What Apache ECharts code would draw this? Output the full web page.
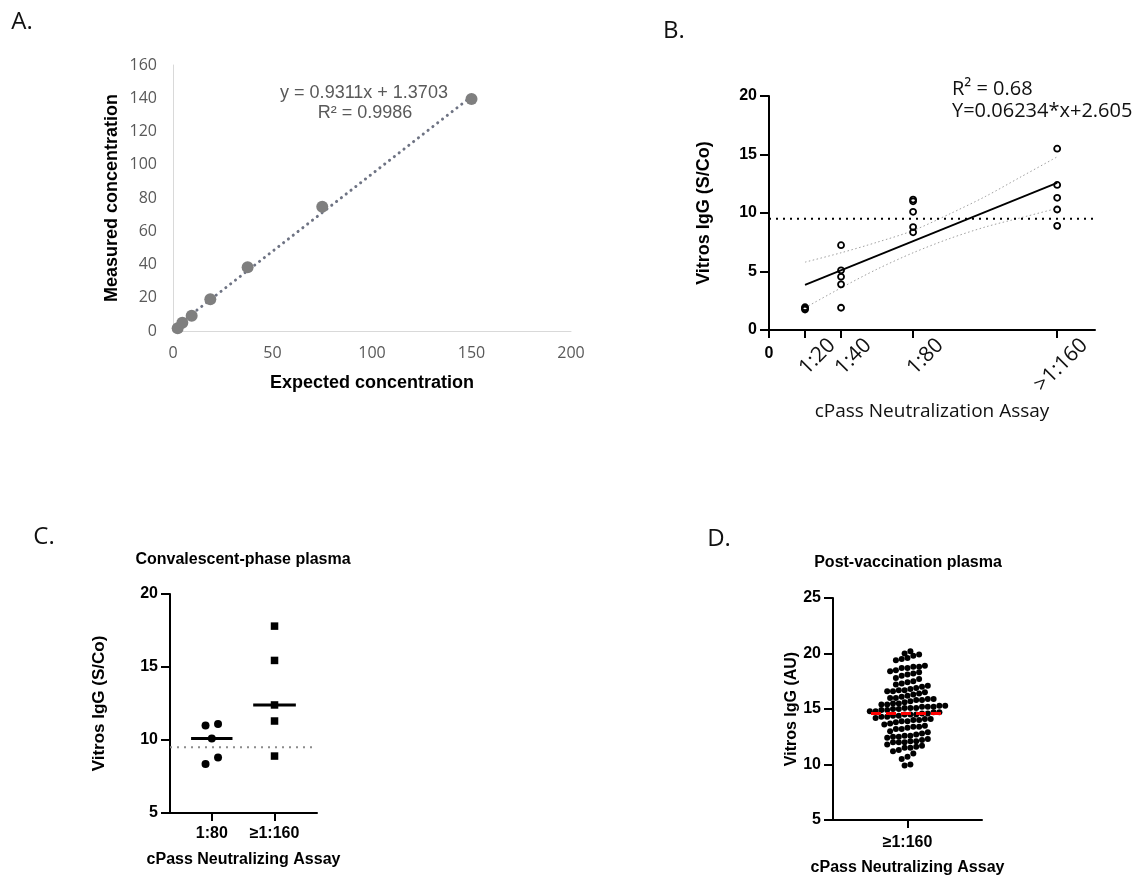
<!DOCTYPE html>
<html>
<head>
<meta charset="utf-8">
<title>Vitros IgG vs cPass neutralization</title>
<script src="https://cdn.jsdelivr.net/npm/echarts@6/dist/echarts.min.js"></script>
<style>
html, body { margin: 0; padding: 0; background: #fff; }
#chart { width: 1139px; height: 877px; }
</style>
</head>
<body>
<div id="chart"></div>
<script>
// A. linearity
let expectedConc = [2.34, 4.69, 9.38, 18.75, 37.5, 75, 150]
let measuredConc = [1.6, 5.0, 9.2, 19.1, 38.3, 74.8, 139.5]
let slopeA = 0.9311
let interceptA = 1.3703

// B. Vitros vs cPass titre
let titerTicks = [20, 40, 80, 160]
let titerLabels = ['1:20', '1:40', '1:80', '>1:160']
let vitros20 = [1.75, 1.85, 1.95]
let vitros40 = [7.25, 5.1, 4.55, 3.9, 1.9]
let vitros80 = [11.15, 11.0, 10.1, 8.8, 8.35]
let vitros160 = [15.5, 12.4, 11.3, 10.3, 8.9]
let bandX = [20, 40, 60, 80, 100, 120, 140, 160]
let bandUpper = [5.8, 6.6, 7.5, 8.5, 9.9, 11.4, 13.1, 14.8]
let bandLower = [1.9, 3.6, 5.2, 6.6, 7.8, 8.8, 9.6, 10.4]
let slopeB = 0.06234
let interceptB = 2.605
let cutoff = 9.5

// C. convalescent
let convCats = ['1:80', '≥1:160']
let conv80 = [11.1, 11.0, 10.1, 8.8, 8.35]
let conv160 = [17.8, 15.45, 12.4, 11.3, 8.9]
let convMedians = [10.1, 12.4]

// D. post-vaccination
let postVax = [
  20.2, 20.0, 19.9, 19.8, 19.6, 19.5, 19.4,
  18.9, 18.8, 18.8, 18.7, 18.7, 18.5, 18.4, 18.3, 18.2, 18.1, 18.0,
  17.8, 17.7, 17.5, 17.4, 17.3, 17.2, 17.1, 17.0,
  16.9, 16.8, 16.7, 16.7, 16.6, 16.6, 16.5, 16.4,
  16.3, 16.2, 16.1, 16.0, 16.0, 15.9, 15.9, 15.8, 15.8, 15.7,
  15.6, 15.5, 15.5, 15.4, 15.4, 15.3, 15.3, 15.2, 15.2, 15.2, 15.1, 15.1, 15.1,
  15.0, 15.0, 14.9, 14.9, 14.8, 14.8, 14.7, 14.7, 14.6, 14.6, 14.5, 14.5, 14.5,
  14.4, 14.4, 14.3, 14.3, 14.2, 14.1, 14.1, 14.0, 14.0, 13.9, 13.9,
  13.8, 13.7, 13.6, 13.5, 13.4, 13.4, 13.3, 13.2, 13.2,
  13.0, 12.9, 12.8, 12.7, 12.6, 12.6, 12.5, 12.5,
  12.4, 12.3, 12.2, 12.1, 12.1, 12.0, 12.0, 12.0,
  11.8, 11.7, 11.6, 11.5, 11.5, 11.3, 11.2,
  11.0, 10.7, 10.5, 10.0, 9.9
]
let postVaxMedian = 14.6
let postVaxCat = '≥1:160'

let ARIAL = '"Liberation Sans", Arial, sans-serif'
let CALIBRI = '"Open Sans", "Noto Sans", sans-serif'

// grid boxes (px)
let gA = {left: 173, top: 65, width: 398, height: 266}
let gB = {left: 769, top: 96, width: 326, height: 234}
let gC = {left: 170, top: 594, width: 147, height: 219}
let gD = {left: 833, top: 598, width: 149, height: 222}

let xMaxB = 181
let xRangeC = [0.334, 2.677]
let yRangeC = [5, 20]
let xRangeD = [-1, 1]
let yRangeD = [5, 25]

// GraphPad-like dot plot: points close in y share a row and are spread sideways
function rowSpread (values, center, rowPx, gapPx, pxPerX, pxPerY) {
  let idx = values.map((v, i) => i).sort((a, b) => values[a] - values[b])
  let rows = []
  idx.forEach(i => {
    let last = rows[rows.length - 1]
    if (last && (values[i] - values[last[0]]) * pxPerY < rowPx) {
      last.push(i)
    } else {
      rows.push([i])
    }
  })
  let out = new Array(values.length)
  rows.forEach(row => {
    row.forEach((i, k) => {
      let off = (k - (row.length - 1) / 2) * gapPx
      out[i] = [center + off / pxPerX, values[i]]
    })
  })
  return out
}

function blackAxis (extra) {
  return Object.assign({
    axisLine: {show: true, onZero: false, lineStyle: {color: '#000', width: 2}},
    axisTick: {show: true, length: 9, lineStyle: {color: '#000', width: 2}},
    splitLine: {show: false},
    axisLabel: {color: '#000', fontFamily: ARIAL, fontWeight: 'bold', fontSize: 16, margin: 12}
  }, extra)
}

let pxPerXB = gB.width / xMaxB
let pxPerXC = gC.width / (xRangeC[1] - xRangeC[0])
let pxPerYC = gC.height / (yRangeC[1] - yRangeC[0])
let pxPerXD = gD.width / (xRangeD[1] - xRangeD[0])
let pxPerYD = gD.height / (yRangeD[1] - yRangeD[0])

let dotsC80 = rowSpread(conv80, 1, 8, 12.5, pxPerXC, pxPerYC)
let dotsC160 = rowSpread(conv160, 2, 8, 12.5, pxPerXC, pxPerYC)
let dotsD = rowSpread(postVax, 0, 5.6, 5.8, pxPerXD, pxPerYD)

let pointsB = []
;[vitros20, vitros40, vitros80, vitros160].forEach((arr, i) => {
  arr.forEach(v => pointsB.push([titerTicks[i], v]))
})

// rotated titre labels sit to the right of their tick, as in the original
let labelShiftB = 27 / pxPerXB
let labelValuesB = titerTicks.map(t => t + labelShiftB)
function titerLabel (v) {
  let i = labelValuesB.findIndex(t => Math.abs(t - v) < 0.01)
  return i >= 0 ? titerLabels[i] : ''
}

let option = {
  animation: false,
  backgroundColor: '#fff',
  grid: [
    Object.assign({outerBoundsMode: 'none', containLabel: false}, gA),
    Object.assign({outerBoundsMode: 'none', containLabel: false}, gB),
    Object.assign({outerBoundsMode: 'none', containLabel: false}, gC),
    Object.assign({outerBoundsMode: 'none', containLabel: false}, gD)
  ],
  xAxis: [
    {
      gridIndex: 0, type: 'value', min: 0, max: 200, interval: 50,
      axisLine: {show: true, onZero: false, lineStyle: {color: '#d9d9d9', width: 1}},
      axisTick: {show: false},
      splitLine: {show: false},
      axisLabel: {color: '#595959', fontFamily: CALIBRI, fontSize: 16, margin: 14},
      name: 'Expected concentration', nameLocation: 'middle', nameGap: 43,
      nameTextStyle: {color: '#000', fontFamily: ARIAL, fontWeight: 'bold', fontSize: 18}
    },
    blackAxis({
      gridIndex: 1, type: 'value', min: 0, max: xMaxB, position: 'bottom',
      axisTick: {show: true, length: 8, lineStyle: {color: '#000', width: 2}, customValues: [0].concat(titerTicks)},
      axisLabel: {
        customValues: labelValuesB, rotate: 45, margin: 12,
        color: '#111', fontFamily: CALIBRI, fontSize: 21,
        formatter: titerLabel
      },
      name: 'cPass Neutralization Assay', nameLocation: 'middle', nameGap: 72,
      nameTextStyle: {color: '#111', fontFamily: CALIBRI, fontSize: 19}
    }),
    {
      gridIndex: 1, type: 'value', min: 0, max: xMaxB, position: 'bottom', offset: 0,
      axisLine: {show: false, onZero: false}, axisTick: {show: false}, splitLine: {show: false},
      axisLabel: {customValues: [0], color: '#000', fontFamily: ARIAL, fontWeight: 'bold', fontSize: 16, margin: 16}
    },
    blackAxis({
      gridIndex: 2, type: 'value', min: xRangeC[0], max: xRangeC[1],
      axisTick: {show: true, length: 8, lineStyle: {color: '#000', width: 2}, customValues: [1, 2]},
      axisLabel: {
        customValues: [1, 2], color: '#000', fontFamily: ARIAL, fontWeight: 'bold', fontSize: 16, margin: 13,
        formatter: v => convCats[Math.round(v) - 1] || ''
      },
      name: 'cPass Neutralizing Assay', nameLocation: 'middle', nameGap: 39,
      nameTextStyle: {color: '#000', fontFamily: ARIAL, fontWeight: 'bold', fontSize: 16}
    }),
    blackAxis({
      gridIndex: 3, type: 'value', min: xRangeD[0], max: xRangeD[1],
      axisTick: {show: true, length: 8, lineStyle: {color: '#000', width: 2}, customValues: [0]},
      axisLabel: {
        customValues: [0], color: '#000', fontFamily: ARIAL, fontWeight: 'bold', fontSize: 16, margin: 15,
        formatter: () => postVaxCat
      },
      name: 'cPass Neutralizing Assay', nameLocation: 'middle', nameGap: 40,
      nameTextStyle: {color: '#000', fontFamily: ARIAL, fontWeight: 'bold', fontSize: 16}
    })
  ],
  yAxis: [
    {
      gridIndex: 0, type: 'value', min: 0, max: 160, interval: 20,
      axisLine: {show: true, onZero: false, lineStyle: {color: '#d9d9d9', width: 1}},
      axisTick: {show: false},
      splitLine: {show: false},
      axisLabel: {color: '#595959', fontFamily: CALIBRI, fontSize: 16, margin: 16},
      name: 'Measured concentration', nameLocation: 'middle', nameGap: 52,
      nameTextStyle: {color: '#000', fontFamily: ARIAL, fontWeight: 'bold', fontSize: 18}
    },
    blackAxis({
      gridIndex: 1, type: 'value', min: 0, max: 20, interval: 5,
      name: 'Vitros IgG (S/Co)', nameLocation: 'middle', nameGap: 56,
      nameTextStyle: {color: '#000', fontFamily: ARIAL, fontWeight: 'bold', fontSize: 18}
    }),
    blackAxis({
      gridIndex: 2, type: 'value', min: yRangeC[0], max: yRangeC[1], interval: 5,
      name: 'Vitros IgG (S/Co)', nameLocation: 'middle', nameGap: 62,
      nameTextStyle: {color: '#000', fontFamily: ARIAL, fontWeight: 'bold', fontSize: 17}
    }),
    blackAxis({
      gridIndex: 3, type: 'value', min: yRangeD[0], max: yRangeD[1], interval: 5,
      name: 'Vitros IgG (AU)', nameLocation: 'middle', nameGap: 33,
      nameTextStyle: {color: '#000', fontFamily: ARIAL, fontWeight: 'bold', fontSize: 16}
    })
  ],
  graphic: [
    {type: 'text', x: 22, y: 22, style: {text: 'A.', font: '24px ' + CALIBRI, fill: '#111', align: 'center', verticalAlign: 'middle'}},
    {type: 'text', x: 674, y: 31, style: {text: 'B.', font: '24px ' + CALIBRI, fill: '#111', align: 'center', verticalAlign: 'middle'}},
    {type: 'text', x: 44, y: 537, style: {text: 'C.', font: '24px ' + CALIBRI, fill: '#111', align: 'center', verticalAlign: 'middle'}},
    {type: 'text', x: 719, y: 539, style: {text: 'D.', font: '24px ' + CALIBRI, fill: '#111', align: 'center', verticalAlign: 'middle'}},
    {type: 'text', x: 364, y: 93, style: {text: 'y = ' + slopeA + 'x + ' + interceptA, font: '18px ' + ARIAL, fill: '#595959', align: 'center', verticalAlign: 'middle'}},
    {type: 'text', x: 365, y: 113, style: {text: 'R² = 0.9986', font: '18px ' + ARIAL, fill: '#595959', align: 'center', verticalAlign: 'middle'}},
    {type: 'text', x: 952, y: 89, style: {text: 'R² = 0.68', font: '20px ' + CALIBRI, fill: '#111', align: 'left', verticalAlign: 'middle'}},
    {type: 'text', x: 952, y: 111, style: {text: 'Y=' + slopeB + '*x+' + interceptB, font: '20px ' + CALIBRI, fill: '#111', align: 'left', verticalAlign: 'middle'}},
    {type: 'text', x: 243, y: 560, style: {text: 'Convalescent-phase plasma', font: 'bold 16px ' + ARIAL, fill: '#000', align: 'center', verticalAlign: 'middle'}},
    {type: 'text', x: 908, y: 563, style: {text: 'Post-vaccination plasma', font: 'bold 16px ' + ARIAL, fill: '#000', align: 'center', verticalAlign: 'middle'}}
  ],
  series: [
    {
      type: 'line', xAxisIndex: 0, yAxisIndex: 0, z: 2,
      data: [expectedConc[0], expectedConc[expectedConc.length - 1]].map(x => [x, slopeA * x + interceptA]),
      showSymbol: false, silent: true,
      lineStyle: {color: '#6e7383', width: 3, type: [0.1, 6], cap: 'round'}
    },
    {
      type: 'scatter', xAxisIndex: 0, yAxisIndex: 0, z: 3,
      data: expectedConc.map((x, i) => [x, measuredConc[i]]),
      symbolSize: 12, itemStyle: {color: '#7f7f7f', opacity: 1}
    },
    {
      type: 'line', xAxisIndex: 1, yAxisIndex: 1, smooth: 0.3,
      data: bandX.map((x, i) => [x, bandUpper[i]]), showSymbol: false,
      lineStyle: {color: '#a0a0a0', width: 1, type: [1.5, 2.5]}
    },
    {
      type: 'line', xAxisIndex: 1, yAxisIndex: 1, smooth: 0.3,
      data: bandX.map((x, i) => [x, bandLower[i]]), showSymbol: false,
      lineStyle: {color: '#a0a0a0', width: 1, type: [1.5, 2.5]}
    },
    {
      type: 'line', xAxisIndex: 1, yAxisIndex: 1,
      data: [titerTicks[0], titerTicks[titerTicks.length - 1]].map(x => [x, slopeB * x + interceptB]),
      showSymbol: false, lineStyle: {color: '#000', width: 1.8}
    },
    {
      type: 'line', xAxisIndex: 1, yAxisIndex: 1,
      data: [[0, cutoff], [xMaxB, cutoff]], showSymbol: false,
      lineStyle: {color: '#000', width: 2, type: [2, 5]}
    },
    {
      type: 'scatter', xAxisIndex: 1, yAxisIndex: 1, z: 4,
      data: pointsB, symbolSize: 6,
      itemStyle: {color: 'rgba(0,0,0,0)', borderColor: '#000', borderWidth: 1.8, opacity: 1}
    },
    {
      type: 'line', xAxisIndex: 3, yAxisIndex: 2,
      data: [[xRangeC[0], cutoff], [xRangeC[1], cutoff]], showSymbol: false,
      lineStyle: {color: '#8c8c8c', width: 2, type: [2, 5]}
    },
    {
      type: 'scatter', xAxisIndex: 3, yAxisIndex: 2, z: 4,
      data: dotsC80, symbol: 'circle', symbolSize: 8, itemStyle: {color: '#000', opacity: 1}
    },
    {
      type: 'scatter', xAxisIndex: 3, yAxisIndex: 2, z: 4,
      data: dotsC160, symbol: 'rect', symbolSize: 7.5, itemStyle: {color: '#000', opacity: 1}
    },
    {
      type: 'line', xAxisIndex: 3, yAxisIndex: 2, z: 5, connectNulls: false,
      data: [[1 - 0.33, convMedians[0]], [1 + 0.33, convMedians[0]], null, [2 - 0.34, convMedians[1]], [2 + 0.34, convMedians[1]]],
      showSymbol: false, lineStyle: {color: '#000', width: 3}
    },
    {
      type: 'scatter', xAxisIndex: 4, yAxisIndex: 3, z: 4,
      data: dotsD, symbolSize: 6, itemStyle: {color: '#000', opacity: 1}
    },
    {
      type: 'line', xAxisIndex: 4, yAxisIndex: 3, z: 6,
      data: [[-0.49, postVaxMedian], [0.49, postVaxMedian]], showSymbol: false,
      lineStyle: {color: '#ff0000', width: 3, type: [10, 5]}
    }
  ]
}

let chart = echarts.init(document.getElementById('chart'))
chart.setOption(option)
</script>
</body>
</html>
